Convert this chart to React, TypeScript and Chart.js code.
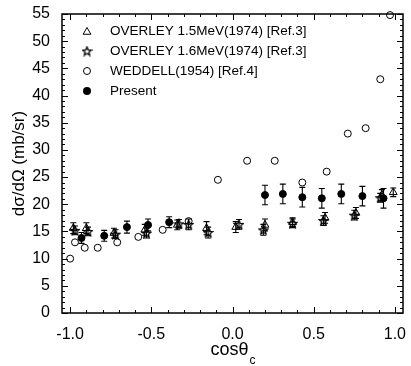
import React, { useEffect, useRef } from 'react';
import { Chart, registerables } from 'chart.js';

Chart.register(...registerables);

// ---- data ----
const xTickValues = [-1.0, -0.5, 0.0, 0.5, 1.0];
const yTickStep = 5;

const weddellX = [-1.0, -0.97, -0.91, -0.83, -0.71, -0.58, -0.43, -0.27, -0.09, 0.09, 0.26, 0.43, 0.58, 0.71, 0.82, 0.91, 0.97];
const weddellY = [10, 13, 12, 12, 13, 14, 15.3, 16.9, 24.5, 28, 28, 24, 26, 33, 34, 43, 54.8];

const overley15X = [-0.98, -0.9, -0.73, -0.54, -0.34, -0.16, 0.02, 0.2, 0.37, 0.57, 0.76, 0.92, 0.99];
const overley15Y = [15.6, 15.6, 14.7, 15.3, 16.2, 15.6, 15.8, 16.2, 16.7, 17.5, 18.4, 21.7, 22.2];
const overley15Err = [1.0, 1.0, 0.9, 1.0, 0.9, 1.2, 1.0, 1.1, 0.8, 1.0, 1.0, 1.0, 0.8];

const overley16X = [-0.97, -0.89, -0.72, -0.53, -0.33, -0.27, -0.15, 0.04, 0.19, 0.37, 0.56, 0.75, 0.91];
const overley16Y = [15.2, 15.0, 14.5, 14.7, 16.4, 16.3, 14.8, 16.3, 15.3, 16.5, 17.0, 18.0, 21.2];
const overley16Err = [0.8, 0.8, 0.8, 0.9, 0.8, 1.0, 1.0, 0.9, 1.0, 0.8, 0.9, 0.9, 0.8];

const presentX = [-0.93, -0.79, -0.65, -0.52, -0.39, 0.2, 0.31, 0.43, 0.55, 0.67, 0.8, 0.93];
const presentY = [13.8, 14.2, 15.8, 16.2, 16.7, 21.7, 21.9, 21.3, 21.1, 21.9, 21.5, 21.1];
const presentErr = [1.0, 1.0, 1.1, 1.1, 1.0, 1.8, 1.8, 1.8, 1.8, 1.8, 1.8, 1.8];

const legendLabels = [
  'OVERLEY 1.5MeV(1974) [Ref.3]',
  'OVERLEY 1.6MeV(1974) [Ref.3]',
  'WEDDELL(1954) [Ref.4]',
  'Present',
];
const yTitle = 'dσ/dΩ (mb/sr)';
const xTitleMain = 'cosθ';
const xTitleSub = 'c';

const FONT = '"Liberation Sans", Arial, Helvetica, sans-serif';

function makeStar(size: number): HTMLCanvasElement {
  const c = document.createElement('canvas');
  c.width = size;
  c.height = size;
  const ctx = c.getContext('2d')!;
  const cx = size / 2, cy = size / 2 + 0.5;
  const ro = size / 2 - 1, ri = ro * 0.45;
  ctx.beginPath();
  for (let i = 0; i < 10; i++) {
    const r = i % 2 === 0 ? ro : ri;
    const a = -Math.PI / 2 + (i * Math.PI) / 5;
    const px = cx + r * Math.cos(a), py = cy + r * Math.sin(a);
    if (i === 0) ctx.moveTo(px, py); else ctx.lineTo(px, py);
  }
  ctx.closePath();
  ctx.strokeStyle = '#000';
  ctx.lineWidth = 1.3;
  ctx.stroke();
  return c;
}

const pts = (xs: number[], ys: number[]) => xs.map((x, i) => ({ x, y: ys[i] }));

export default function App() {
  const ref = useRef<HTMLCanvasElement>(null);

  useEffect(() => {
    document.body.style.margin = '0';
    const star = makeStar(11);
    const errs: (number[] | null)[] = [overley15Err, overley16Err, null, presentErr];

    const errorBars = {
      id: 'errorBars',
      beforeDatasetsDraw(chart: any) {
        const ctx = chart.ctx;
        const xs = chart.scales.x, ys = chart.scales.y;
        ctx.save();
        ctx.strokeStyle = '#000';
        ctx.lineWidth = 1.1;
        chart.data.datasets.forEach((ds: any, di: number) => {
          const e = errs[di];
          if (!e) return;
          ds.data.forEach((p: any, i: number) => {
            const px = xs.getPixelForValue(p.x);
            const y1 = ys.getPixelForValue(p.y - e[i]);
            const y2 = ys.getPixelForValue(p.y + e[i]);
            ctx.beginPath();
            ctx.moveTo(px, y1); ctx.lineTo(px, y2);
            ctx.moveTo(px - 3, y1); ctx.lineTo(px + 3, y1);
            ctx.moveTo(px - 3, y2); ctx.lineTo(px + 3, y2);
            ctx.stroke();
          });
        });
        ctx.restore();
      },
    };

    const frame = {
      id: 'frame',
      afterDraw(chart: any) {
        const ctx = chart.ctx;
        const a = chart.chartArea;
        const xs = chart.scales.x, ys = chart.scales.y;
        ctx.save();
        ctx.strokeStyle = '#000';
        ctx.lineWidth = 1.5;
        ctx.strokeRect(a.left, a.top, a.right - a.left, a.bottom - a.top);
        ctx.lineWidth = 1;
        ctx.beginPath();
        for (let k = -10; k <= 10; k++) {
          const v = k / 10;
          const px = Math.round(xs.getPixelForValue(v)) + 0.5;
          const len = k % 5 === 0 ? 6 : 3;
          ctx.moveTo(px, a.bottom); ctx.lineTo(px, a.bottom - len);
          ctx.moveTo(px, a.top); ctx.lineTo(px, a.top + len);
        }
        for (let v = 0; v <= 55; v++) {
          const py = Math.round(ys.getPixelForValue(v)) + 0.5;
          const len = v % 5 === 0 ? 6 : 3;
          ctx.moveTo(a.left, py); ctx.lineTo(a.left + len, py);
          ctx.moveTo(a.right, py); ctx.lineTo(a.right - len, py);
        }
        ctx.stroke();

        // x title with subscript
        ctx.fillStyle = '#000';
        ctx.textBaseline = 'alphabetic';
        ctx.font = `18px ${FONT}`;
        const w1 = ctx.measureText(xTitleMain).width;
        ctx.font = `12px ${FONT}`;
        const w2 = ctx.measureText(xTitleSub).width;
        const cx = (a.left + a.right) / 2;
        const sx = cx - (w1 + w2) / 2;
        ctx.font = `18px ${FONT}`;
        ctx.fillText(xTitleMain, sx, 355);
        ctx.font = `12px ${FONT}`;
        ctx.fillText(xTitleSub, sx + w1 + 1, 364);

        // legend
        const lx = 87, tx = 110;
        const rows = [31, 51, 71, 91];
        ctx.font = `13.5px ${FONT}`;
        ctx.textBaseline = 'middle';
        legendLabels.forEach((t, i) => ctx.fillText(t, tx, rows[i]));
        ctx.lineWidth = 1;
        const r = 4.5;
        ctx.beginPath();
        for (let k = 0; k < 3; k++) {
          const ang = (k * 2 * Math.PI) / 3;
          const px = lx + Math.sin(ang) * r, py = rows[0] + 1 - Math.cos(ang) * r;
          if (k === 0) ctx.moveTo(px, py); else ctx.lineTo(px, py);
        }
        ctx.closePath();
        ctx.stroke();
        ctx.drawImage(star, lx - 5.5, rows[1] - 5.5);
        ctx.beginPath();
        ctx.arc(lx, rows[2], 3.5, 0, Math.PI * 2);
        ctx.stroke();
        ctx.beginPath();
        ctx.arc(lx, rows[3], 4, 0, Math.PI * 2);
        ctx.fill();
        ctx.restore();
      },
    };

    const chart = new Chart(ref.current!, {
      type: 'scatter',
      data: {
        datasets: [
          {
            label: legendLabels[0],
            data: pts(overley15X, overley15Y),
            pointStyle: 'triangle',
            pointRadius: 4.5,
            borderColor: '#000',
            backgroundColor: 'rgba(0,0,0,0)',
            borderWidth: 1,
            clip: false,
          },
          {
            label: legendLabels[1],
            data: pts(overley16X, overley16Y),
            pointStyle: star as any,
            pointRadius: 5,
            borderColor: '#000',
            backgroundColor: 'rgba(0,0,0,0)',
            clip: false,
          },
          {
            label: legendLabels[2],
            data: pts(weddellX, weddellY),
            pointStyle: 'circle',
            pointRadius: 3.5,
            borderColor: '#000',
            backgroundColor: 'rgba(0,0,0,0)',
            borderWidth: 1,
            clip: false,
          },
          {
            label: legendLabels[3],
            data: pts(presentX, presentY),
            pointStyle: 'circle',
            pointRadius: 3.5,
            borderColor: '#000',
            backgroundColor: '#000',
            borderWidth: 1,
            clip: false,
          },
        ],
      },
      options: {
        animation: false,
        responsive: false,
        devicePixelRatio: 1,
        layout: { padding: { top: 14, right: 8, left: 0, bottom: 0 } },
        plugins: { legend: { display: false }, tooltip: { enabled: false } },
        scales: {
          x: {
            type: 'linear',
            min: -1.05,
            max: 1.05,
            grid: { display: false },
            border: { display: false },
            afterBuildTicks: (s: any) => {
              s.ticks = xTickValues.map((v) => ({ value: v }));
            },
            afterFit: (s: any) => {
              s.height = 53;
            },
            ticks: {
              color: '#000',
              font: { family: FONT, size: 16 },
              padding: 4,
              maxRotation: 0,
              callback: (v: any) => Number(v).toFixed(1),
            },
          },
          y: {
            type: 'linear',
            min: 0,
            max: 55,
            grid: { display: false },
            border: { display: false },
            afterFit: (s: any) => {
              s.width = 62;
            },
            ticks: {
              stepSize: yTickStep,
              color: '#000',
              font: { family: FONT, size: 16 },
              padding: 4,
            },
            title: {
              display: true,
              text: yTitle,
              color: '#000',
              font: { family: FONT, size: 17 },
              padding: { top: 9, bottom: 0 },
            },
          },
        },
      },
      plugins: [errorBars, frame],
    } as any);

    return () => chart.destroy();
  }, []);

  return (
    <canvas
      ref={ref}
      width={411}
      height={366}
      style={{ position: 'absolute', left: 0, top: 0, width: 411, height: 366 }}
    />
  );
}
